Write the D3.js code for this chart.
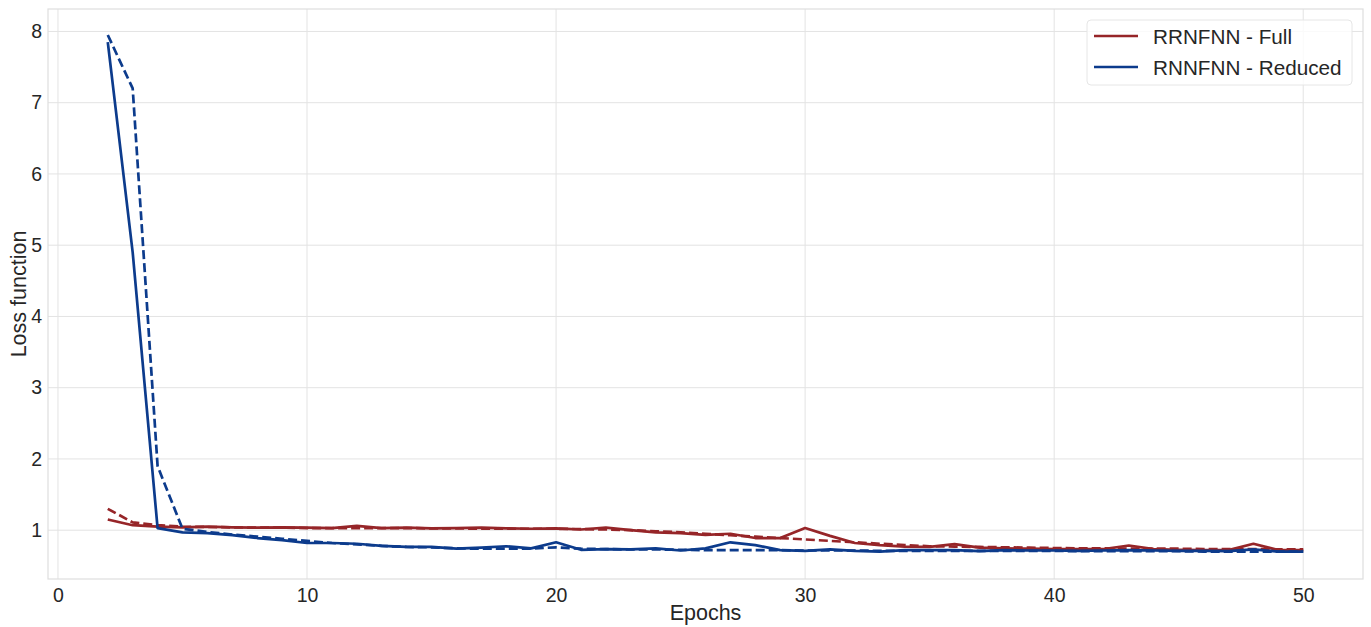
<!DOCTYPE html>
<html>
<head>
<meta charset="utf-8">
<script src="https://cdn.jsdelivr.net/npm/d3@7"></script>
<style>
  body { margin: 0; background: #fff; }
  text { font-family: "Liberation Sans", Arial, sans-serif; }
</style>
</head>
<body>
<svg id="chart" width="1371" height="627"></svg>
<script>
var epochs = d3.range(2, 51);

// RRNFNN - Full, solid and dashed curves
var fullSolid = [1.15, 1.07, 1.05, 1.04, 1.05, 1.04, 1.035, 1.04, 1.035, 1.03,
    1.06, 1.03, 1.035, 1.025, 1.03, 1.035, 1.025, 1.02, 1.025, 1.01,
    1.035, 1.0, 0.97, 0.96, 0.935, 0.95, 0.89, 0.89, 1.03, 0.92,
    0.82, 0.79, 0.77, 0.765, 0.805, 0.755, 0.745, 0.74, 0.735, 0.735,
    0.735, 0.785, 0.735, 0.725, 0.72, 0.72, 0.81, 0.72, 0.72];
var fullDashed = [1.30, 1.11, 1.07, 1.05, 1.045, 1.04, 1.035, 1.035, 1.03, 1.03,
    1.03, 1.03, 1.03, 1.025, 1.025, 1.02, 1.02, 1.02, 1.02, 1.015,
    1.01, 1.0, 0.985, 0.97, 0.95, 0.93, 0.91, 0.89, 0.87, 0.85,
    0.83, 0.81, 0.79, 0.775, 0.77, 0.765, 0.76, 0.755, 0.75, 0.745,
    0.745, 0.74, 0.74, 0.74, 0.735, 0.735, 0.735, 0.73, 0.73];

// RNNFNN - Reduced, solid and dashed curves
var reducedSolid = [7.85, 4.9, 1.03, 0.97, 0.96, 0.93, 0.89, 0.86, 0.82, 0.82,
    0.81, 0.78, 0.765, 0.765, 0.74, 0.755, 0.775, 0.745, 0.83, 0.725,
    0.735, 0.73, 0.745, 0.715, 0.745, 0.83, 0.79, 0.72, 0.71, 0.73,
    0.71, 0.70, 0.72, 0.72, 0.72, 0.705, 0.72, 0.715, 0.715, 0.71,
    0.715, 0.72, 0.715, 0.71, 0.71, 0.705, 0.73, 0.70, 0.70];
var reducedDashed = [7.95, 7.2, 1.9, 1.02, 0.975, 0.94, 0.91, 0.88, 0.85, 0.82,
    0.80, 0.78, 0.765, 0.76, 0.745, 0.74, 0.74, 0.74, 0.76, 0.74,
    0.735, 0.73, 0.73, 0.725, 0.72, 0.72, 0.72, 0.72, 0.715, 0.715,
    0.715, 0.71, 0.71, 0.71, 0.71, 0.71, 0.71, 0.71, 0.71, 0.705,
    0.705, 0.705, 0.705, 0.705, 0.70, 0.70, 0.70, 0.70, 0.70];

var xTicks = [0, 10, 20, 30, 40, 50];
var yTicks = [1, 2, 3, 4, 5, 6, 7, 8];
var legendLabels = ["RRNFNN - Full", "RNNFNN - Reduced"];

var red = "#962528", blue = "#0c3b8c";

var svg = d3.select("#chart");
var pLeft = 48, pRight = 1363, pTop = 9, pBottom = 579;

var x = d3.scaleLinear().domain([-0.4, 52.4]).range([pLeft, pRight]);
var y = d3.scaleLinear().domain([0.315, 8.315]).range([pBottom, pTop]);

// grid
svg.append("g")
    .selectAll("line")
    .data(xTicks)
    .enter().append("line")
    .attr("x1", function(d) { return x(d); })
    .attr("x2", function(d) { return x(d); })
    .attr("y1", pTop).attr("y2", pBottom)
    .attr("stroke", "#e3e3e3").attr("stroke-width", 1);
svg.append("g")
    .selectAll("line")
    .data(yTicks)
    .enter().append("line")
    .attr("y1", function(d) { return y(d); })
    .attr("y2", function(d) { return y(d); })
    .attr("x1", pLeft).attr("x2", pRight)
    .attr("stroke", "#e3e3e3").attr("stroke-width", 1);

svg.append("rect")
    .attr("x", pLeft).attr("y", pTop)
    .attr("width", pRight - pLeft).attr("height", pBottom - pTop)
    .attr("fill", "none").attr("stroke", "#dedede").attr("stroke-width", 1.2);

// axes (labels only, like seaborn whitegrid)
var gx = svg.append("g")
    .attr("transform", "translate(0," + pBottom + ")")
    .call(d3.axisBottom(x).tickValues(xTicks).tickSize(0).tickPadding(9));
var gy = svg.append("g")
    .attr("transform", "translate(" + pLeft + ",0)")
    .call(d3.axisLeft(y).tickValues(yTicks).tickSize(0).tickPadding(6));
[gx, gy].forEach(function(g) {
    g.select(".domain").remove();
    g.selectAll("text")
        .attr("font-size", 19.5)
        .attr("fill", "#262626")
        .style("font-family", "'Liberation Sans', Arial, sans-serif");
});

svg.append("text")
    .attr("x", (pLeft + pRight) / 2).attr("y", 620)
    .attr("text-anchor", "middle")
    .attr("font-size", 21.5).attr("fill", "#262626")
    .text("Epochs");
svg.append("text")
    .attr("transform", "translate(26," + (pTop + pBottom) / 2 + ") rotate(-90)")
    .attr("text-anchor", "middle")
    .attr("font-size", 21.5).attr("fill", "#262626")
    .text("Loss function");

var line = d3.line()
    .x(function(d, i) { return x(epochs[i]); })
    .y(function(d) { return y(d); });

var series = [
    { values: fullDashed, color: red, dash: "9,4" },
    { values: fullSolid, color: red, dash: null },
    { values: reducedDashed, color: blue, dash: "9,4" },
    { values: reducedSolid, color: blue, dash: null }
];

svg.append("g")
    .selectAll("path")
    .data(series)
    .enter().append("path")
    .attr("d", function(d) { return line(d.values); })
    .attr("fill", "none")
    .attr("stroke", function(d) { return d.color; })
    .attr("stroke-width", 2.7)
    .attr("stroke-linejoin", "round")
    .attr("stroke-dasharray", function(d) { return d.dash; });

// legend
var legend = svg.append("g").attr("transform", "translate(1087,20)");
legend.append("rect")
    .attr("width", 265).attr("height", 65)
    .attr("rx", 4)
    .attr("fill", "#fff").attr("fill-opacity", 0.8)
    .attr("stroke", "#e6e6e6").attr("stroke-width", 1);
var item = legend.selectAll("g")
    .data(legendLabels)
    .enter().append("g")
    .attr("transform", function(d, i) { return "translate(0," + (16 + i * 31) + ")"; });
item.append("line")
    .attr("x1", 7).attr("x2", 51)
    .attr("stroke", function(d, i) { return i === 0 ? red : blue; })
    .attr("stroke-width", 2.7);
item.append("text")
    .attr("x", 66).attr("y", 7.5)
    .attr("font-size", 20.7).attr("fill", "#262626")
    .text(function(d) { return d; });
</script>
</body>
</html>
